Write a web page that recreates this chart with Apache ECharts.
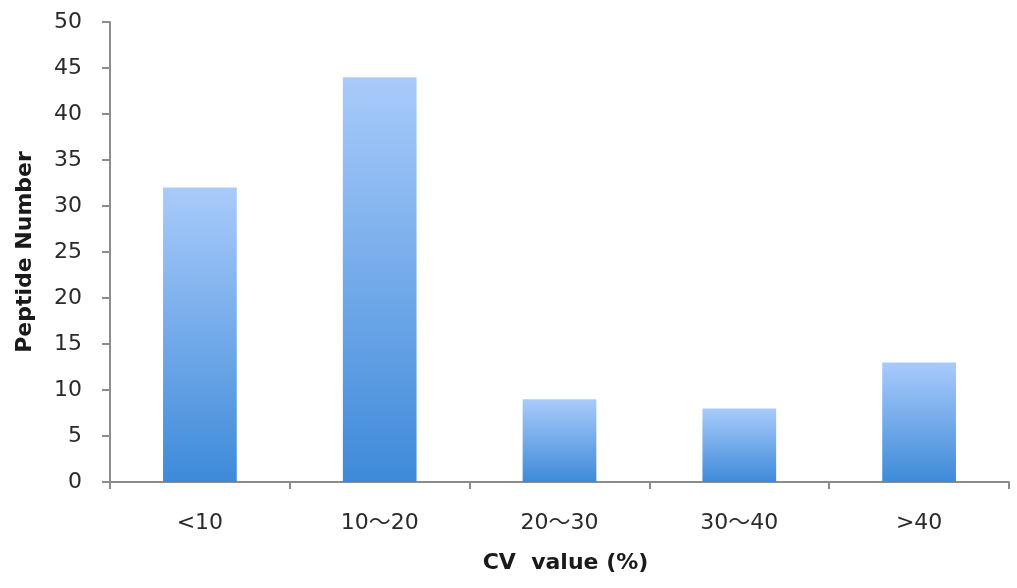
<!DOCTYPE html>
<html>
<head>
<meta charset="utf-8">
<script src="https://cdn.jsdelivr.net/npm/echarts@6/dist/echarts.min.js"></script>
<style>html,body{margin:0;padding:0;background:#fff;}#c{width:1017px;height:588px;}</style>
</head>
<body>
<div id="c"></div>
<script>
const categories = ['<10', '10～20', '20～30', '30～40', '>40'];
const values = [32, 44, 9, 8, 13];
const yTicks = { min: 0, max: 50, interval: 5 };

const chart = echarts.init(document.getElementById('c'));
const font = '"DejaVu Sans", "Noto Sans CJK SC", sans-serif';
chart.setOption({
  animation: false,
  grid: { left: 110, right: 8, top: 22, bottom: 106 },
  xAxis: {
    type: 'category',
    data: categories,
    name: 'CV  value (%)',
    nameLocation: 'middle',
    nameGap: 70,
    nameTextStyle: { fontFamily: font, fontSize: 22, fontWeight: 'bold', color: '#1a1a1a', padding: [0, 0, 0, 12] },
    axisLine: { lineStyle: { color: '#8c8c8c', width: 2 } },
    axisTick: { show: true, length: 7, lineStyle: { color: '#8c8c8c', width: 2 } },
    axisLabel: { fontFamily: font, fontSize: 22, color: '#2a2a2a', margin: 30 }
  },
  yAxis: {
    type: 'value',
    min: yTicks.min, max: yTicks.max, interval: yTicks.interval,
    name: 'Peptide Number',
    nameLocation: 'middle',
    nameGap: 74,
    nameTextStyle: { fontFamily: font, fontSize: 22, fontWeight: 'bold', color: '#1a1a1a' },
    axisLine: { show: true, lineStyle: { color: '#8c8c8c', width: 2 } },
    axisTick: { show: true, length: 8, lineStyle: { color: '#8c8c8c', width: 2 } },
    axisLabel: { fontFamily: font, fontSize: 22, color: '#2a2a2a', margin: 28 },
    splitLine: { show: false }
  },
  series: [{
    type: 'bar',
    data: values,
    barWidth: '41%',
    itemStyle: {
      color: new echarts.graphic.LinearGradient(0, 0, 0, 1, [
        { offset: 0, color: '#a9cbfb' },
        { offset: 1, color: '#3e8ad9' }
      ])
    }
  }]
});
</script>
</body>
</html>
